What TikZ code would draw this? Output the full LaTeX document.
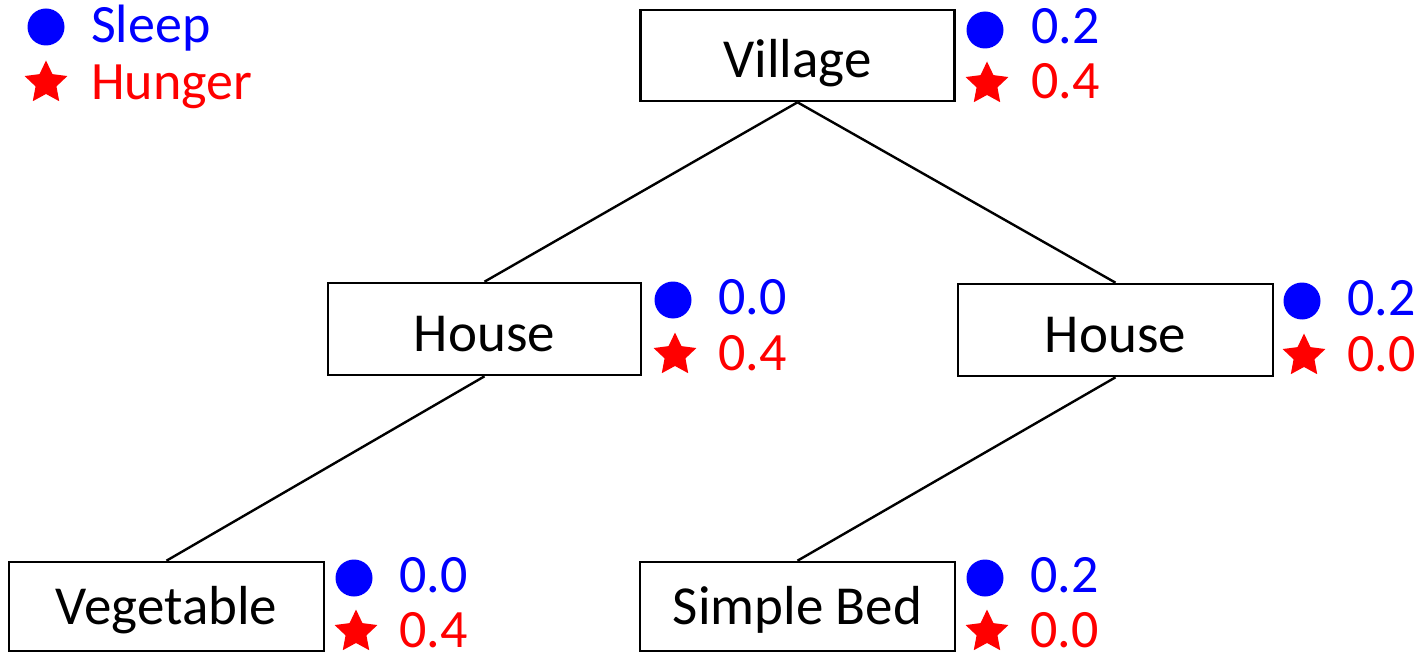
\documentclass[tikz,border=0pt]{standalone}
\usepackage{fontspec}
\setmainfont{Carlito}
\usetikzlibrary{shapes.geometric}
\definecolor{sblue}{RGB}{0,0,255}
\definecolor{hred}{RGB}{255,0,0}
\tikzset{
  box/.style={draw=black, line width=2.6pt, fill=white, minimum width=314pt, minimum height=91pt, inner sep=0pt, text height=44pt, text depth=0pt, font=\fontsize{55}{62}\selectfont},
  lowbox/.style={box, minimum width=315pt, minimum height=89pt, text height=36pt},
  edge/.style={draw=black, line width=2.4pt},
  dot/.style={circle, fill=sblue, inner sep=0pt, minimum size=37pt},
  starmark/.style={star, star points=5, star point ratio=2.05, fill=hred, inner sep=0pt, minimum size=45pt},
  bluetxt/.style={anchor=base west, inner sep=0pt, text=sblue, font=\fontsize{54}{60}\selectfont},
  redtxt/.style={anchor=base west, inner sep=0pt, text=hred, font=\fontsize{54}{60}\selectfont}
}
\begin{document}
\begin{tikzpicture}[x=1pt,y=-1pt]
\useasboundingbox (0,0) rectangle (1424,655);
% boxes
\node[box] (village) at (797.5,55.5) {Village};
\node[box, minimum width=313pt, minimum height=92pt] (houseL) at (484.5,329) {House};
\node[box, minimum width=315pt, minimum height=92pt] (houseR) at (1115.5,330) {House};
\node[lowbox] (veg) at (166.5,606.5) {Vegetable};
\node[lowbox] (bed) at (797.5,606.5) {Simple Bed};
% edges
\draw[edge] (village.south) -- (houseL.north);
\draw[edge] (village.south) -- (houseR.north);
\draw[edge] (houseL.south) -- (veg.north);
\draw[edge] (houseR.south) -- (bed.north);
% legend
\node[dot] (legdot) at (46,27) {};
\node[starmark] (legstar) at (46,83) {};
\node[bluetxt] (legsleep) at (91,43) {Sleep};
\node[redtxt] (leghunger) at (91,100) {Hunger};
% scores
\node[dot] (vdot) at (985,30) {};
\node[starmark] (vstar) at (987,84) {};
\node[bluetxt] (vs) at (1031,44) {0.2};
\node[redtxt] (vh) at (1031,99) {0.4};
\node[dot] (hldot) at (673,300) {};
\node[starmark] (hlstar) at (675,355) {};
\node[bluetxt] (hls) at (718,314) {0.0};
\node[redtxt] (hlh) at (718,370) {0.4};
\node[dot] (hrdot) at (1302,301) {};
\node[starmark] (hrstar) at (1304,356) {};
\node[bluetxt] (hrs) at (1347,315) {0.2};
\node[redtxt] (hrh) at (1347,371) {0.0};
\node[dot] (vgdot) at (354,578) {};
\node[starmark] (vgstar) at (356,632) {};
\node[bluetxt] (vgs) at (399,592) {0.0};
\node[redtxt] (vgh) at (399,647) {0.4};
\node[dot] (bddot) at (985,578) {};
\node[starmark] (bdstar) at (987,632) {};
\node[bluetxt] (bds) at (1030,592) {0.2};
\node[redtxt] (bdh) at (1030,647) {0.0};
\end{tikzpicture}
\end{document}
